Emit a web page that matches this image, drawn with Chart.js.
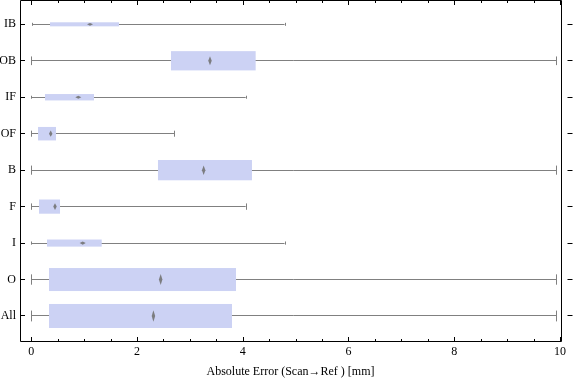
<!DOCTYPE html>
<html><head><meta charset="utf-8">
<script src="https://cdn.jsdelivr.net/npm/chart.js@4/dist/chart.umd.min.js"></script>
<style>html,body{margin:0;padding:0;background:#fff}#wrap{width:576px;height:381px;position:relative}</style>
</head><body><div id="wrap"><canvas id="c"></canvas></div>
<script>
const categories = ['IB','OB','IF','OF','B','F','I','O','All'];
const whiskerMin = [0.02,0,0,0,0,0,0,0,0];
const q1 = [0.354,2.642,0.259,0.127,2.396,0.146,0.297,0.335,0.335];
const median = [1.11,3.38,0.889,0.367,3.26,0.448,0.972,2.447,2.31];
const q3 = [1.659,4.244,1.186,0.467,4.174,0.543,1.332,3.872,3.796];
const whiskerMax = [4.79,9.93,4.055,2.705,9.93,4.055,4.79,9.93,9.93];
const relativeCount = [4,19,6.3,13.3,20,14,7,22.7,23.7];
const xTicks = [0,2,4,6,8,10];
const xMinorTicks = [0.5,1,1.5,2.5,3,3.5,4.5,5,5.5,6.5,7,7.5,8.5,9,9.5];
const axisTitle = 'Absolute Error (Scan\u2192Ref ) [mm]';

const FONT = 'Liberation Serif';

const boxPlugin = {
  id: 'boxwhisker',
  beforeDatasetsDraw(chart) {
    const ctx = chart.ctx, xs = chart.scales.x, ys = chart.scales.y;
    const spacing = Math.abs(ys.getPixelForValue(1) - ys.getPixelForValue(0));
    ctx.save();
    categories.forEach((c, i) => {
      const cy = ys.getPixelForValue(i);
      const h = relativeCount[i] * spacing * 0.0278;
      const ly = Math.floor(cy) + 0.5;
      const xMin = xs.getPixelForValue(whiskerMin[i]);
      const xMax = xs.getPixelForValue(whiskerMax[i]);
      const x1 = xs.getPixelForValue(q1[i]);
      const x3 = xs.getPixelForValue(q3[i]);
      const xm = xs.getPixelForValue(median[i]);
      ctx.strokeStyle = '#808080';
      ctx.lineWidth = 1;
      ctx.beginPath();
      ctx.moveTo(xMin, ly); ctx.lineTo(xMax, ly);
      const cap = Math.max(3, 0.45 * h);
      ctx.moveTo(Math.round(xMin) + 0.5, cy - cap / 2); ctx.lineTo(Math.round(xMin) + 0.5, cy + cap / 2);
      ctx.moveTo(Math.round(xMax) + 0.5, cy - cap / 2); ctx.lineTo(Math.round(xMax) + 0.5, cy + cap / 2);
      ctx.stroke();
      ctx.fillStyle = 'rgb(204,210,244)';
      ctx.fillRect(x1, cy - h / 2, x3 - x1, h);
      const hd = Math.max(2.7, 0.47 * h);
      const wd = h < 10 ? 6 : 3.5;
      ctx.fillStyle = 'rgba(115,115,115,0.9)';
      ctx.beginPath();
      ctx.moveTo(xm - wd / 2, cy);
      ctx.lineTo(xm, cy - hd / 2);
      ctx.lineTo(xm + wd / 2, cy);
      ctx.lineTo(xm, cy + hd / 2);
      ctx.closePath();
      ctx.fill();
    });
    ctx.restore();
  },
  afterDraw(chart) {
    const ctx = chart.ctx, xs = chart.scales.x, ys = chart.scales.y;
    const a = chart.chartArea;
    ctx.save();
    ctx.strokeStyle = '#000';
    ctx.lineWidth = 1;
    const L = Math.round(a.left) + 0.5, R = Math.round(a.right) + 0.5;
    const T = Math.round(a.top) + 0.5, B = Math.round(a.bottom) + 0.5;
    ctx.beginPath();
    ctx.moveTo(L, T); ctx.lineTo(R, T); ctx.lineTo(R, B); ctx.lineTo(L, B); ctx.closePath();
    xTicks.forEach(v => {
      const x = Math.round(xs.getPixelForValue(v)) + 0.5;
      ctx.moveTo(x, B); ctx.lineTo(x, B - 4.5);
      ctx.moveTo(x, T); ctx.lineTo(x, T + 4.5);
    });
    xMinorTicks.forEach(v => {
      const x = Math.round(xs.getPixelForValue(v)) + 0.5;
      ctx.moveTo(x, B); ctx.lineTo(x, B - 2.5);
      ctx.moveTo(x, T); ctx.lineTo(x, T + 2.5);
    });
    categories.forEach((c, i) => {
      const y = Math.floor(ys.getPixelForValue(i)) + 0.5;
      ctx.moveTo(L, y); ctx.lineTo(L + 4.5, y);
      ctx.moveTo(R + 6, y); ctx.lineTo(R + 11, y);
    });
    ctx.stroke();
    ctx.restore();
  }
};

new Chart(document.getElementById('c'), {
  type: 'scatter',
  data: { datasets: [{ data: median.map((m, i) => ({ x: m, y: i })), pointRadius: 0, showLine: false }] },
  options: {
    responsive: true, maintainAspectRatio: false, animation: false,
    layout: { padding: { top: 0, right: 15, left: 0, bottom: 0 } },
    plugins: { legend: { display: false }, tooltip: { enabled: false } },
    scales: {
      x: {
        type: 'linear', min: -0.214, max: 10.02,
        grid: { display: false, drawTicks: false }, border: { display: false },
        afterBuildTicks: s => { s.ticks = xTicks.map(v => ({ value: v })); },
        afterFit: s => { s.height = 40; s.paddingLeft = 0; s.paddingRight = 0; },
        ticks: { color: '#000', font: { family: FONT, size: 12 }, padding: 4, maxRotation: 0,
                 callback: v => String(v) },
        title: { display: true, text: axisTitle, color: '#000', font: { family: FONT, size: 12 },
                 padding: { top: 0, bottom: 2 } }
      },
      y: {
        type: 'linear', reverse: true, min: -0.667, max: 8.686,
        grid: { display: false, drawTicks: false }, border: { display: false },
        afterBuildTicks: s => { s.ticks = categories.map((c, i) => ({ value: i })); },
        afterFit: s => { s.width = 20; s.paddingTop = 0; s.paddingBottom = 0; },
        ticks: { color: '#000', font: { family: FONT, size: 12 }, padding: 4,
                 callback: v => categories[v] ?? '' }
      }
    }
  },
  plugins: [boxPlugin]
});
</script>
</body></html>
